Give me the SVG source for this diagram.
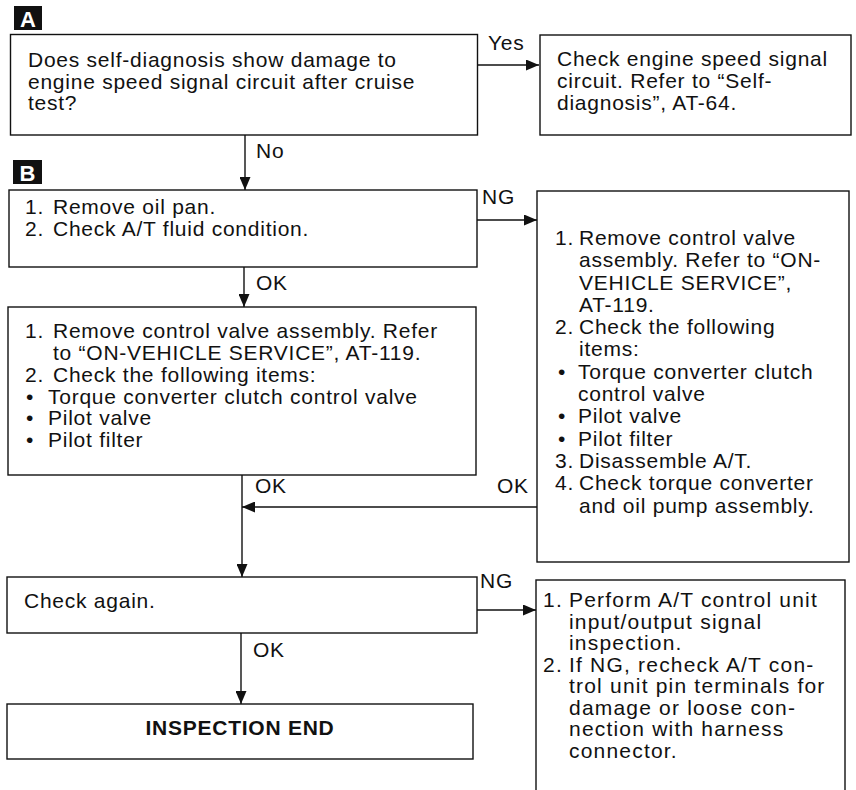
<svg xmlns="http://www.w3.org/2000/svg" width="856" height="790" viewBox="0 0 856 790">
  <defs>
    <style>
      .box { fill: #fff; stroke: #111; stroke-width: 1.4; }
      .wire { fill: none; stroke: #111; stroke-width: 1.4; }
      text { font-family: "Liberation Sans", Arial, sans-serif; font-size: 21px; letter-spacing: 0.75px; fill: #111; }
      .wide { letter-spacing: 1.2px; }
      .bold { font-weight: bold; }
      .tag { fill: #111; }
      .tagtxt { fill: #fff; font-weight: bold; font-size: 22px; letter-spacing: 0; }
    </style>
    <marker id="arrow" markerUnits="userSpaceOnUse" markerWidth="13" markerHeight="11" refX="13" refY="5.5" orient="auto">
      <path d="M0,0 L13,5.5 L0,11 Z" fill="#111"/>
    </marker>
  </defs>

  <rect width="856" height="790" fill="#fff"/>

  <!-- section tags -->
  <g id="tag-a">
    <rect class="tag" x="14" y="6" width="28" height="24"/>
    <text class="tagtxt" x="28" y="27" text-anchor="middle">A</text>
  </g>
  <g id="tag-b">
    <rect class="tag" x="13" y="160" width="29" height="24"/>
    <text class="tagtxt" x="27.5" y="181" text-anchor="middle">B</text>
  </g>

  <!-- connectors -->
  <g id="connectors">
    <path class="wire" d="M478,65 H539" marker-end="url(#arrow)"/>
    <path class="wire" d="M245,135 V190" marker-end="url(#arrow)"/>
    <path class="wire" d="M477,220 H537" marker-end="url(#arrow)"/>
    <path class="wire" d="M244,267 V307" marker-end="url(#arrow)"/>
    <path class="wire" d="M242,475 V577" marker-end="url(#arrow)"/>
    <path class="wire" d="M537,507 H242" marker-end="url(#arrow)"/>
    <path class="wire" d="M477,610 H536" marker-end="url(#arrow)"/>
    <path class="wire" d="M241,633 V704" marker-end="url(#arrow)"/>
    <text x="488" y="50">Yes</text>
    <text x="256" y="158">No</text>
    <text x="482" y="204">NG</text>
    <text x="256" y="290">OK</text>
    <text x="497" y="493">OK</text>
    <text x="255" y="493">OK</text>
    <text x="480" y="588">NG</text>
    <text x="253" y="657">OK</text>
  </g>

  <!-- A: question -->
  <g id="node-question">
    <rect class="box" x="10.5" y="34.5" width="467" height="100.5"/>
    <text x="28">
      <tspan x="28" y="67">Does self-diagnosis show damage to</tspan>
      <tspan x="28" y="88.5">engine speed signal circuit after cruise</tspan>
      <tspan x="28" y="110">test?</tspan>
    </text>
  </g>

  <g id="node-speed-signal">
    <rect class="box" x="540" y="35" width="311" height="100"/>
    <text>
      <tspan x="557" y="66">Check engine speed signal</tspan>
      <tspan x="557" y="88">circuit. Refer to “Self-</tspan>
      <tspan x="557" y="110">diagnosis”, AT-64.</tspan>
    </text>
  </g>

  <!-- B: oil pan -->
  <g id="node-oil-pan">
    <rect class="box" x="9" y="190" width="468" height="77"/>
    <text>
      <tspan x="25" y="214">1.</tspan><tspan x="53" y="214">Remove oil pan.</tspan>
      <tspan x="25" y="236">2.</tspan><tspan x="53" y="236">Check A/T fluid condition.</tspan>
    </text>
  </g>

  <g id="node-control-valve">
    <rect class="box" x="8" y="307" width="468" height="168"/>
    <text>
      <tspan x="25" y="338">1.</tspan><tspan x="53" y="338">Remove control valve assembly. Refer</tspan>
      <tspan x="53" y="360">to “ON-VEHICLE SERVICE”, AT-119.</tspan>
      <tspan x="25" y="382">2.</tspan><tspan x="53" y="382">Check the following items:</tspan>
      <tspan x="26" y="403.5">•</tspan><tspan x="48" y="403.5">Torque converter clutch control valve</tspan>
      <tspan x="26" y="425">•</tspan><tspan x="48" y="425">Pilot valve</tspan>
      <tspan x="26" y="447">•</tspan><tspan x="48" y="447">Pilot filter</tspan>
    </text>
  </g>

  <g id="node-disassemble">
    <rect class="box" x="537" y="191" width="312" height="371"/>
    <text>
      <tspan x="555" y="245">1.</tspan><tspan x="579" y="245">Remove control valve</tspan>
      <tspan x="579" y="267">assembly. Refer to “ON-</tspan>
      <tspan x="579" y="289.5">VEHICLE SERVICE”,</tspan>
      <tspan x="579" y="311.5">AT-119.</tspan>
      <tspan x="555" y="334">2.</tspan><tspan x="579" y="334">Check the following</tspan>
      <tspan x="579" y="356">items:</tspan>
      <tspan x="558" y="378.5">•</tspan><tspan x="578" y="378.5">Torque converter clutch</tspan>
      <tspan x="578" y="401">control valve</tspan>
      <tspan x="558" y="423">•</tspan><tspan x="578" y="423">Pilot valve</tspan>
      <tspan x="558" y="445.5">•</tspan><tspan x="578" y="445.5">Pilot filter</tspan>
      <tspan x="555" y="468">3.</tspan><tspan x="579" y="468">Disassemble A/T.</tspan>
      <tspan x="555" y="490">4.</tspan><tspan x="579" y="490">Check torque converter</tspan>
      <tspan x="579" y="512.5">and oil pump assembly.</tspan>
    </text>
  </g>

  <g id="node-check-again">
    <rect class="box" x="7" y="577" width="470" height="56"/>
    <text x="24" y="608">Check again.</text>
  </g>

  <g id="node-control-unit">
    <rect class="box" x="536" y="580" width="309" height="230"/>
    <text class="wide">
      <tspan x="543" y="607">1.</tspan><tspan x="569" y="607">Perform A/T control unit</tspan>
      <tspan x="569" y="628.5">input/output signal</tspan>
      <tspan x="569" y="650">inspection.</tspan>
      <tspan x="543" y="671.5">2.</tspan><tspan x="569" y="671.5">If NG, recheck A/T con-</tspan>
      <tspan x="569" y="693">trol unit pin terminals for</tspan>
      <tspan x="569" y="714.5">damage or loose con-</tspan>
      <tspan x="569" y="736">nection with harness</tspan>
      <tspan x="569" y="757.5">connector.</tspan>
    </text>
  </g>

  <g id="node-end">
    <rect class="box" x="7" y="704" width="466" height="55"/>
    <text class="bold" x="240" y="735" text-anchor="middle">INSPECTION END</text>
  </g>
</svg>
